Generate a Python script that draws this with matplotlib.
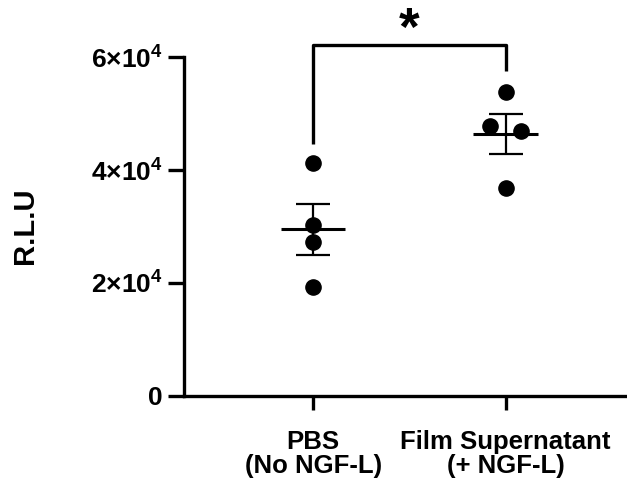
import numpy as np
import matplotlib
matplotlib.use("Agg")
import matplotlib.pyplot as plt

plt.rcParams['font.family'] = ['Liberation Sans', 'DejaVu Sans']
plt.rcParams['font.weight'] = 'bold'
plt.rcParams['mathtext.fontset'] = 'custom'
plt.rcParams['mathtext.rm'] = 'Liberation Sans:bold'
plt.rcParams['mathtext.bf'] = 'Liberation Sans:bold'
plt.rcParams['mathtext.it'] = 'Liberation Sans:bold'

# datos
grupos = ['PBS\n(No NGF-L)', 'Film Supernatant\n(+ NGF-L)']
pbs = [41200, 30200, 27300, 19300]
film = [53900, 47900, 46900, 36900]
jitter_pbs = [0, 0, 0, 0]
jitter_film = [0, -0.08, 0.08, 0]
yticks = [0, 20000, 40000, 60000]
ytick_labels = ['0', r'$2{\times}10^4$', r'$4{\times}10^4$', r'$6{\times}10^4$']

fig = plt.figure(figsize=(6.27, 4.8), dpi=100)
ax = fig.add_axes([0.2935, 0.1756, 0.7065, 0.705])

lw = 2.4
for i, (vals, jit) in enumerate([(pbs, jitter_pbs), (film, jitter_film)]):
    vals = np.array(vals)
    media = vals.mean()
    sem = vals.std(ddof=1) / np.sqrt(len(vals))
    ax.scatter(i + np.array(jit), vals, s=120, color='black', zorder=3,
               clip_on=False)
    ax.hlines(media, i - 0.167, i + 0.167, color='black', lw=2.2, zorder=4)
    ax.errorbar(i, media, yerr=sem, fmt='none', ecolor='black',
                elinewidth=1.6, capsize=12, capthick=1.6, zorder=4)

# barra de significancia
ax.plot([0, 0, 1, 1], [44600, 62200, 62200, 57600], color='black', lw=lw,
        clip_on=False, solid_capstyle='butt')
ax.text(0.5, 64600, '*', ha='center', va='center', fontsize=38,
        fontweight='bold')

ax.set_xlim(-0.67, 1.63)
ax.set_ylim(0, 60000)
ax.set_xticks([0, 1])
ax.set_xticklabels(grupos, fontsize=18.5, fontweight='bold', linespacing=1.0)
ax.set_yticks(yticks)
ax.set_yticklabels(ytick_labels, fontsize=19)

for s in ['top', 'right']:
    ax.spines[s].set_visible(False)
ax.spines['left'].set_linewidth(lw)
ax.spines['bottom'].set_linewidth(lw)
ax.tick_params(axis='y', length=11.5, width=lw, pad=4)
ax.tick_params(axis='x', length=10, width=lw, pad=15)

fig.text(25 / 627, 0.529, 'R.L.U', rotation=90, ha='center', va='center',
         fontsize=21, fontweight='bold')

fig.savefig('out.png', dpi=100)
